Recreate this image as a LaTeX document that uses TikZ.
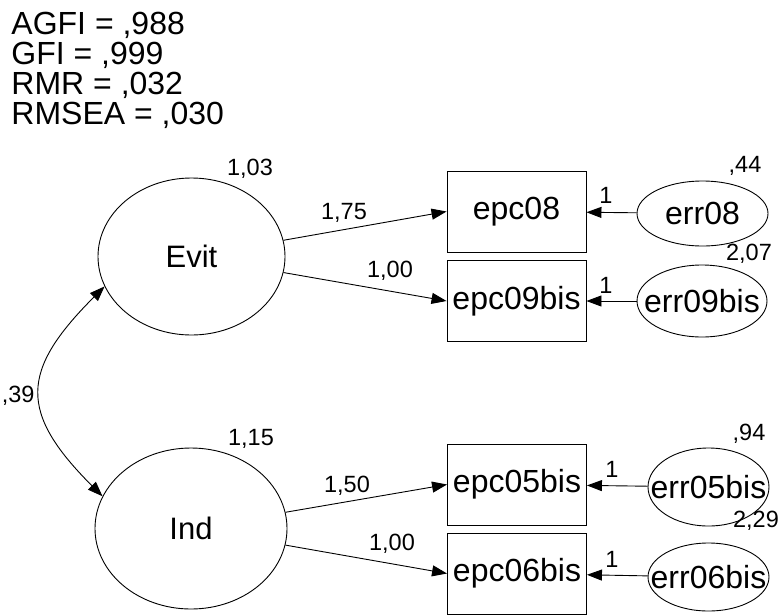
\documentclass[tikz,border=0pt]{standalone}
\usepackage{fontspec}
\setmainfont{Liberation Sans}
\usetikzlibrary{arrows.meta,shapes.geometric}

\begin{document}
\begin{tikzpicture}[x=1pt, y=-1pt, line width=0.9pt,
  latent/.style={draw, ellipse, inner sep=0pt, font=\fontsize{31}{31}\selectfont},
  observed/.style={draw, rectangle, minimum width=139pt, minimum height=81pt, inner sep=0pt, font=\fontsize{32}{32}\selectfont},
  error/.style={draw, ellipse, inner sep=0pt, label={[font=\fontsize{32}{32}\selectfont]center:#1}},
  estim/.style={inner sep=0pt, anchor=base, font=\fontsize{23.5}{23.5}\selectfont},
  regr/.style={-{Triangle[length=15pt, width=11pt]}}]
\useasboundingbox (0,0) rectangle (782,614);
\node[anchor=north west, align=left, inner sep=0pt, font=\fontsize{32}{30}\selectfont] (fit) at (11,12) {AGFI = ,988\\GFI = ,999\\RMR = ,032\\RMSEA = ,030};
\node[latent, minimum width=187pt, minimum height=157pt] (Evit) at (191.5,256.5) {Evit};
\node[latent, minimum width=192pt, minimum height=161pt] (Ind) at (191,528.5) {Ind};
\node[observed] (epc08) at (516.5,211.5) {epc08};
\node[observed] (epc09bis) at (516.5,301) {epc09bis};
\node[observed] (epc05bis) at (517,484.5) {epc05bis};
\node[observed] (epc06bis) at (517,573.5) {epc06bis};
\node[error=err08, minimum width=131pt, minimum height=65pt] (err08) at (702.5,213.5) {};
\node[error=err09bis, minimum width=130pt, minimum height=72pt] (err09bis) at (702,301) {};
\node[error=err05bis, minimum width=121pt, minimum height=78pt] (err05bis) at (708.5,487) {};
\node[error=err06bis, minimum width=121pt, minimum height=68pt] (err06bis) at (708.5,577) {};
\draw[regr] (Evit) -- (epc08.west);
\draw[regr] (Evit) -- (epc09bis.west);
\draw[regr] (Ind) -- (epc05bis.west);
\draw[regr] (Ind) -- (epc06bis.west);
\draw[regr] (err08) -- (epc08);
\draw[regr] (err09bis) -- (epc09bis);
\draw[regr] (err05bis) -- (epc05bis);
\draw[regr] (err06bis) -- (epc06bis);
\draw[{Triangle[length=15pt, width=11pt]}-{Triangle[length=15pt, width=11pt]}] (Evit.199) to[out=225, in=135, looseness=1.45] (Ind.160);
\node[estim] (vEvit) at (250,175) {1,03};
\node[estim] (vInd) at (251,445) {1,15};
\node[estim, anchor=base east] (cov) at (35,402) {,39};
\node[estim] (w08) at (344,219) {1,75};
\node[estim] (w09) at (390,277) {1,00};
\node[estim] (w05) at (347,492) {1,50};
\node[estim] (w06) at (392,550) {1,00};
\node[estim] (f08) at (606,203) {1};
\node[estim] (f09) at (606,293) {1};
\node[estim] (f05) at (612,477) {1};
\node[estim] (f06) at (612,567) {1};
\node[estim] (v08) at (745,172) {,44};
\node[estim] (v09) at (749,260) {2,07};
\node[estim] (v05) at (749,440) {,94};
\node[estim] (v06) at (756,527) {2,29};
\end{tikzpicture}
\end{document}
